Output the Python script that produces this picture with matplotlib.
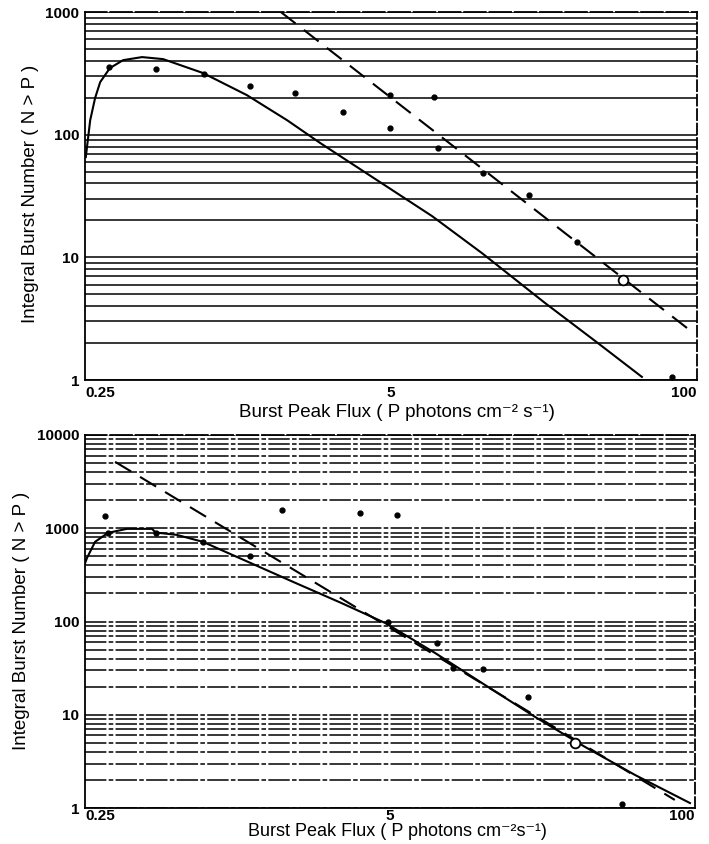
import matplotlib
matplotlib.use("Agg")
import matplotlib.pyplot as plt
from matplotlib.ticker import LogLocator, NullFormatter, FixedLocator, FixedFormatter

plt.rcParams['font.family'] = ['Liberation Sans', 'DejaVu Sans']
plt.rcParams['mathtext.default'] = 'regular'

# ---- top panel ----
top_curve_p = [0.252, 0.263, 0.276, 0.29, 0.319, 0.363, 0.437, 0.537, 0.794, 1.22, 1.81, 2.5,
               3.58, 7.47, 12.2, 22.6, 37.9, 58.3]
top_curve_n = [65.7, 131, 199, 268, 349, 405, 429, 413, 318, 210, 131, 85.5,
               54.5, 21.7, 10.8, 4.24, 2.0, 1.06]
top_dash_p = [1.7, 97]
top_dash_n = [1000, 2.4]
top_pts_p = [0.316, 0.501, 0.80, 1.26, 1.95, 3.13, 4.95, 4.95, 7.6, 7.92, 12.3, 19.3, 30.9, 78.3]
top_pts_n = [356, 343, 312, 249, 218, 153, 210, 113, 203, 77.8, 48.6, 32.2, 13.3, 1.06]
top_circ_p = [48.5]
top_circ_n = [6.5]

# ---- bottom panel ----
bot_curve_p = [0.25, 0.255, 0.276, 0.313, 0.377, 0.483, 0.50, 0.616, 0.796, 1.23, 1.93, 3.1,
               4.76, 7.78, 12.7, 20.8, 34, 55.5, 95.2]
bot_curve_n = [420, 481, 715, 892, 985, 985, 900, 849, 715, 440, 266, 158,
               96.6, 46, 20.9, 9.47, 4.51, 2.26, 1.13]
bot_dash_p = [0.336, 82]
bot_dash_n = [5158, 1.22]
bot_pts_p = [0.304, 0.313, 0.50, 0.796, 1.26, 1.73, 3.73, 5.36, 4.9, 7.94, 9.29, 12.5, 19.4, 48.9]
bot_pts_n = [1358, 892, 900, 715, 506, 1574, 1463, 1393, 99, 58.9, 31.8, 31, 15.5, 1.1]
bot_circ_p = [30.8]
bot_circ_n = [4.98]

xticks = [0.25, 5, 100]
xtick_labels = ['0.25', '5', '100']

W, H = 709, 844


def panel(ax, cp, cn, dp, dn, pp, pn, op, on, ymax, yticks, grid_ls, xpad):
    ax.set_xscale('log')
    ax.set_yscale('log')
    ax.set_xlim(0.25, 100)
    ax.set_ylim(1, ymax)
    ax.yaxis.set_minor_locator(LogLocator(base=10, subs=range(2, 10), numticks=20))
    ax.yaxis.set_minor_formatter(NullFormatter())
    ax.xaxis.set_minor_formatter(NullFormatter())
    ax.xaxis.set_minor_locator(FixedLocator([]))
    ax.yaxis.grid(True, which='both', color='black', lw=1.1, ls=grid_ls)
    ax.set_axisbelow(True)
    ax.xaxis.set_major_locator(FixedLocator(xticks))
    ax.xaxis.set_major_formatter(FixedFormatter(xtick_labels))
    ax.yaxis.set_major_locator(FixedLocator(yticks))
    ax.yaxis.set_major_formatter(FixedFormatter([str(v) for v in yticks]))
    ax.tick_params(which='both', length=0, labelsize=11, pad=4)
    ax.tick_params(axis='x', pad=xpad)
    for t in ax.get_xticklabels() + ax.get_yticklabels():
        t.set_fontweight('bold')
    ax.get_xticklabels()[0].set_horizontalalignment('left')
    ax.get_xticklabels()[-1].set_horizontalalignment('right')

    ax.plot(cp, cn, color='black', lw=1.5)
    ax.plot(dp, dn, color='black', lw=1.5, dashes=(9, 5))
    ax.plot(pp, pn, 'o', color='black', ms=3.5)
    ax.plot(op, on, 'o', mfc='white', mec='black', mew=1.3, ms=7)

    for s in ax.spines.values():
        s.set_color('black')
        s.set_linewidth(1.3)
    ax.spines['right'].set_linestyle((0, (6, 2)))
    ax.spines['top'].set_linestyle((0, (12, 2)))


fig = plt.figure(figsize=(7.09, 8.44), dpi=100)
ax1 = fig.add_axes([85 / W, 1 - 380 / H, 612 / W, 368 / H])
ax2 = fig.add_axes([85 / W, 1 - 808 / H, 610 / W, 373 / H])

panel(ax1, top_curve_p, top_curve_n, top_dash_p, top_dash_n, top_pts_p, top_pts_n,
      top_circ_p, top_circ_n, 1000, [1, 10, 100, 1000], '-', 4)
panel(ax2, bot_curve_p, bot_curve_n, bot_dash_p, bot_dash_n, bot_pts_p, bot_pts_n,
      bot_circ_p, bot_circ_n, 10000, [1, 10, 100, 1000, 10000], (0, (14, 1.5, 3, 1.5)), 1)

# axis titles placed where the scan has them
fig.text(31 / W, 1 - 194 / H, 'Integral Burst Number ( N > P )', rotation=90,
         ha='center', va='center', fontsize=13.5)
fig.text(22 / W, 1 - 621 / H, 'Integral Burst Number ( N > P )', rotation=90,
         ha='center', va='center', fontsize=13.5)
fig.text(397 / W, 1 - 412 / H, 'Burst Peak Flux ( P photons cm\u207b\u00b2 s\u207b\u00b9)',
         ha='center', va='center', fontsize=13.5)
fig.text(397 / W, 1 - 832 / H, 'Burst Peak Flux ( P photons cm\u207b\u00b2s\u207b\u00b9)',
         ha='center', va='center', fontsize=13)

fig.savefig('out.png', dpi=100)
